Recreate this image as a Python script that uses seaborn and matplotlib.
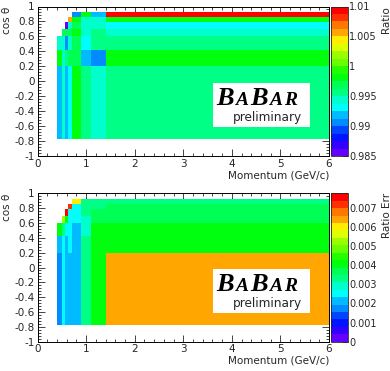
import colorsys
import numpy as np
import pandas as pd
import matplotlib
matplotlib.use("Agg")
import matplotlib.pyplot as plt
from matplotlib.colors import ListedColormap
from matplotlib.patches import Rectangle
from matplotlib.ticker import MultipleLocator
import seaborn as sns

nan = np.nan

# bin edges
p_edges = [0.4, 0.5, 0.575, 0.625, 0.7, 0.9, 1.1, 1.4, 6.0]
cth_edges = [-0.77, 0.2, 0.42, 0.6, 0.7, 0.79, 0.86, 0.92]

# data ratio, rows from low cos(theta) to high, columns = momentum bins
ratio = [
    [0.9919, 0.9944, 0.9919, 0.9931, 0.9981, 0.9956, 0.9944, 0.9956],
    [0.9981, 0.9944, 0.9956, 0.9969, 0.9969, 0.9919, 0.9906, 0.9981],
    [0.9944, 0.9944, 0.9906, 0.9944, 0.9969, 0.9931, 0.9956, 0.9956],
    [nan, 0.9969, 0.9969, 0.9969, 0.9981, 0.9944, 0.9956, 0.9944],
    [nan, nan, 0.9857, 0.9944, 0.9969, 0.9944, 0.9944, 0.9931],
    [nan, nan, nan, 1.0058, 0.9981, 0.9944, 0.9944, 0.9981],
    [nan, nan, nan, nan, 0.9906, 0.9981, 0.9919, 1.0094],
]

# error on the ratio
ratio_err = [
    [0.0017, 0.0025, 0.0021, 0.0021, 0.0021, 0.0033, 0.0041, 0.0064],
    [0.0021, 0.0025, 0.0021, 0.0025, 0.0021, 0.0033, 0.0041, 0.0041],
    [0.0041, 0.0033, 0.0025, 0.0025, 0.0021, 0.0029, 0.0041, 0.0041],
    [nan, 0.0052, 0.0041, 0.0025, 0.0025, 0.0029, 0.0037, 0.0037],
    [nan, nan, 0.0075, 0.0025, 0.0025, 0.0033, 0.0037, 0.0037],
    [nan, nan, nan, 0.0072, 0.0025, 0.0033, 0.0033, 0.0037],
    [nan, nan, nan, nan, 0.0060, 0.0033, 0.0033, 0.0033],
]

ratio_ticks = [0.985, 0.99, 0.995, 1.0, 1.005, 1.01]
ratio_ticklabels = ["0.985", "0.99", "0.995", "1", "1.005", "1.01"]
err_ticks = [0, 0.001, 0.002, 0.003, 0.004, 0.005, 0.006, 0.007]
err_ticklabels = ["0", "0.001", "0.002", "0.003", "0.004", "0.005", "0.006", "0.007"]
y_ticks = [-1, -0.8, -0.6, -0.4, -0.2, 0, 0.2, 0.4, 0.6, 0.8, 1]
y_ticklabels = ["-1", "-0.8", "-0.6", "-0.4", "-0.2", "0", "0.2", "0.4", "0.6", "0.8", "1"]


def root_palette(ncont=20, ncolors=50):
    # ROOT "pretty palette" (violet -> red) picked for 20 contours
    cols = []
    for j in range(ncont):
        k = int((j + 0.99) * ncolors / ncont)
        if k >= ncolors - 1:
            cols.append((1.0, 0.0, 0.0))
        else:
            hue = 280 - (k + 1) * 280 / ncolors
            cols.append(colorsys.hls_to_rgb(hue / 360, 0.5, 1.0))
    return ListedColormap(cols)


def cells_frame(values):
    rows = []
    for i in range(len(cth_edges) - 1):
        for j in range(len(p_edges) - 1):
            v = values[i][j]
            if np.isnan(v):
                continue
            rows.append({"p": 0.5 * (p_edges[j] + p_edges[j + 1]),
                         "cth": 0.5 * (cth_edges[i] + cth_edges[i + 1]),
                         "val": v})
    return pd.DataFrame(rows)


def babar(ax):
    ax.add_patch(Rectangle((0.602, 0.194), 0.333, 0.294, transform=ax.transAxes,
                           facecolor="white", edgecolor="none", zorder=3))
    big = dict(family="Liberation Serif", weight="bold", style="italic",
               size=19, color="black", zorder=4)
    small = dict(big, size=14)
    base = 0.34
    prev = ax.text(0.612, base, "B", transform=ax.transAxes, ha="left",
                   va="baseline", **big)
    for s, kw in [("A", small), ("B", big), ("A", small), ("R", small)]:
        prev = ax.annotate(s, xy=(1, base), xycoords=(prev, ax.transAxes),
                           xytext=(1.2, 0), textcoords="offset points",
                           ha="left", va="baseline", **kw)
    ax.text(0.907, 0.232, "preliminary", transform=ax.transAxes, ha="right",
            va="baseline", size=8.7, zorder=4)


def draw_panel(ax, cax, values, vmin, vmax, ticks, ticklabels, label):
    df = cells_frame(values)
    sns.histplot(data=df, x="p", y="cth", weights="val",
                 bins=[p_edges, cth_edges], cmap=cmap, vmin=vmin, vmax=vmax,
                 cbar=True, cbar_ax=cax, ax=ax, linewidth=0, antialiased=False)
    ax.set_xlim(0, 6)
    ax.set_ylim(-1, 1)
    ax.set_xticks(range(7))
    ax.set_xticklabels([str(i) for i in range(7)])
    ax.set_yticks(y_ticks)
    ax.set_yticklabels(y_ticklabels)
    ax.xaxis.set_minor_locator(MultipleLocator(0.2))
    ax.yaxis.set_minor_locator(MultipleLocator(0.04))
    ax.tick_params(which="both", direction="in", top=True, right=True,
                   width=0.6, labelsize=7.5, pad=2)
    ax.tick_params(which="major", length=5)
    ax.tick_params(which="minor", length=2.5)
    ax.set_xlabel("Momentum (GeV/c)", loc="right", labelpad=1, fontsize=7.5)
    ax.set_ylabel("cos θ", loc="top", labelpad=2, fontsize=7.5)
    for sp in ax.spines.values():
        sp.set_linewidth(0.7)
        sp.set_color("black")
    ax.grid(False)

    cb = ax.collections[0].colorbar
    cb.set_ticks(ticks)
    cb.set_ticklabels(ticklabels)
    cb.ax.minorticks_off()
    cb.ax.tick_params(direction="in", length=4, width=0.6, labelsize=7, pad=1)
    cb.outline.set_linewidth(0.6)
    cb.set_label(label, loc="top", fontsize=7.5)
    # label sits at the far right edge, ROOT style
    cb.ax.yaxis.set_label_coords(50.5 / 17, 1.0)
    babar(ax)


sns.set_style("ticks")
plt.rcParams["font.family"] = ["DejaVu Sans"]
plt.rcParams["axes.unicode_minus"] = False

cmap = root_palette()

W, H = 390, 371
fig = plt.figure(figsize=(W / 100, H / 100), dpi=100)
fig.patch.set_facecolor("white")

ax1 = fig.add_axes([37.5 / W, 1 - 156 / H, 291.5 / W, 149.5 / H])
cax1 = fig.add_axes([331 / W, 1 - 156 / H, 17 / W, 149.5 / H])
ax2 = fig.add_axes([37.5 / W, 1 - 341.7 / H, 291.5 / W, 148.4 / H])
cax2 = fig.add_axes([331 / W, 1 - 341.7 / H, 17 / W, 148.4 / H])

draw_panel(ax1, cax1, ratio, 0.985, 1.01, ratio_ticks, ratio_ticklabels, "Ratio")
draw_panel(ax2, cax2, ratio_err, 0.0, 0.00775, err_ticks, err_ticklabels, "Ratio Err")

fig.savefig("out.png", dpi=100)
